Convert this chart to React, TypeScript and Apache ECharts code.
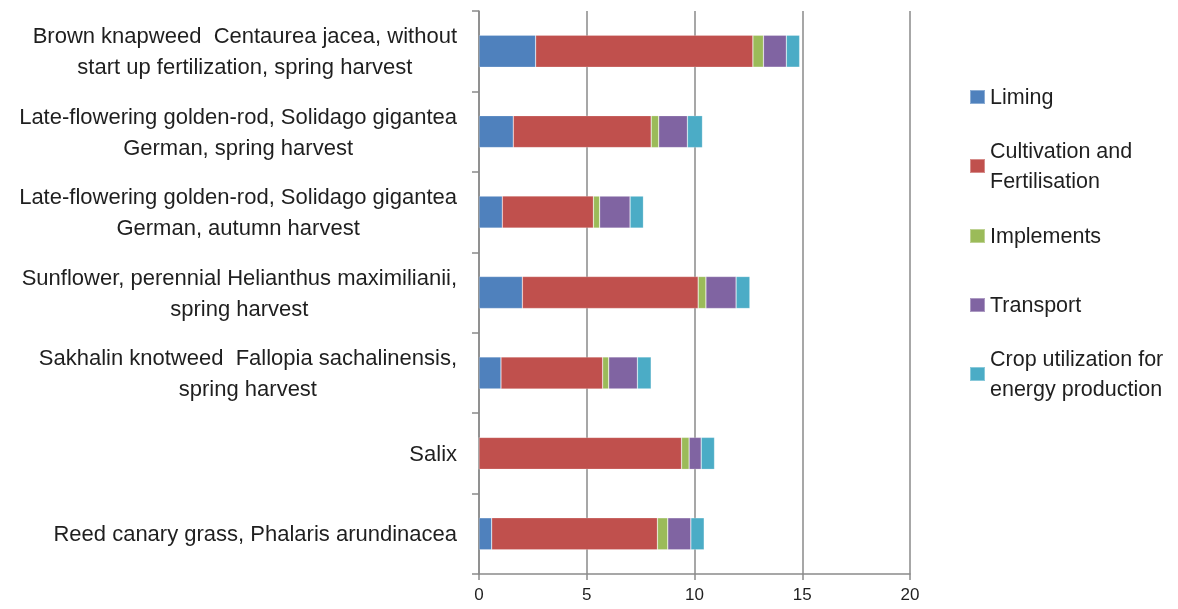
import React, { useEffect, useRef } from "react";
import * as echarts from "echarts";

const categories = [
  "Brown knapweed  Centaurea jacea, without\nstart up fertilization, spring harvest",
  "Late-flowering golden-rod, Solidago gigantea\nGerman, spring harvest",
  "Late-flowering golden-rod, Solidago gigantea\nGerman, autumn harvest",
  "Sunflower, perennial Helianthus maximilianii,\nspring harvest",
  "Sakhalin knotweed  Fallopia sachalinensis,\nspring harvest",
  "Salix",
  "Reed canary grass, Phalaris arundinacea",
];

const seriesNames = [
  "Liming",
  "Cultivation and\nFertilisation",
  "Implements",
  "Transport",
  "Crop utilization for\nenergy production",
];

const liming = [2.63, 1.59, 1.08, 2.01, 1.02, 0, 0.59];
const cultivation = [10.08, 6.4, 4.23, 8.16, 4.72, 9.4, 7.69];
const implementsValues = [0.49, 0.35, 0.29, 0.36, 0.28, 0.35, 0.48];
const transport = [1.06, 1.33, 1.41, 1.4, 1.33, 0.56, 1.07];
const cropUtilization = [0.62, 0.7, 0.62, 0.64, 0.64, 0.62, 0.62];

const xTicks = { min: 0, max: 20, interval: 5 };

const colors = ["#4F81BD", "#C0504D", "#9BBB59", "#8064A2", "#4BACC6"];

const FONT = "Liberation Sans";
const TEXT = "#1f1f1f";
const GRAY = "#8a8a8a";

export default function App() {
  const ref = useRef<HTMLDivElement>(null);

  useEffect(() => {
    if (!ref.current) return;
    const chart = echarts.init(ref.current, null, { renderer: "svg" });
    const values = [liming, cultivation, implementsValues, transport, cropUtilization];
    const legendCenters = [97, 166, 236, 305, 374];

    const legends = seriesNames.map((name, i) => {
      const multi = name.includes("\n");
      return {
        show: true,
        orient: "vertical",
        left: 969,
        top: legendCenters[i] - (multi ? 45 : 15),
        padding: 0,
        itemWidth: 15,
        itemHeight: 14,
        icon: "rect",
        data: [name],
        selectedMode: false,
        textStyle: {
          fontFamily: FONT,
          fontSize: 21.5,
          color: TEXT,
          lineHeight: 30,
          padding: multi ? [30, 0, 0, 0] : 0,
        },
      };
    });

    chart.setOption({
      animation: false,
      color: colors,
      legend: legends,
      grid: {
        left: 479,
        right: 268,
        top: 11,
        bottom: 35,
        containLabel: false,
        outerBoundsMode: "none",
      },
      xAxis: {
        type: "value",
        min: xTicks.min,
        max: xTicks.max,
        interval: xTicks.interval,
        axisLine: { show: true, lineStyle: { color: GRAY, width: 1.5 } },
        axisTick: { show: true, length: 6, lineStyle: { color: GRAY, width: 1.5 } },
        splitLine: { show: true, lineStyle: { color: GRAY, width: 1.5 } },
        axisLabel: {
          fontFamily: FONT,
          fontSize: 17,
          lineHeight: 17,
          color: TEXT,
          margin: 12,
        },
      },
      yAxis: {
        type: "category",
        inverse: true,
        data: categories,
        axisLine: { show: true, lineStyle: { color: GRAY, width: 1.5 } },
        axisTick: { show: true, length: 7, lineStyle: { color: GRAY, width: 1.5 } },
        axisLabel: {
          margin: 22,
          align: "right",
          formatter: (v: string) =>
            v
              .split("\n")
              .map((l) => `{c|${l}}`)
              .join("\n"),
          rich: {
            c: {
              align: "center",
              fontFamily: FONT,
              fontSize: 22,
              lineHeight: 31,
              color: TEXT,
            },
          },
        },
      },
      series: seriesNames.map((name, i) => ({
        name,
        type: "bar",
        stack: "total",
        barWidth: 32,
        data: values[i],
        itemStyle: {
          color: colors[i],
          borderColor: "rgba(255,255,255,0.35)",
          borderWidth: 0.6,
        },
      })),
    });

    return () => chart.dispose();
  }, []);

  return (
    <div
      ref={ref}
      style={{ position: "fixed", left: 0, top: 0, width: 1178, height: 609 }}
    />
  );
}
